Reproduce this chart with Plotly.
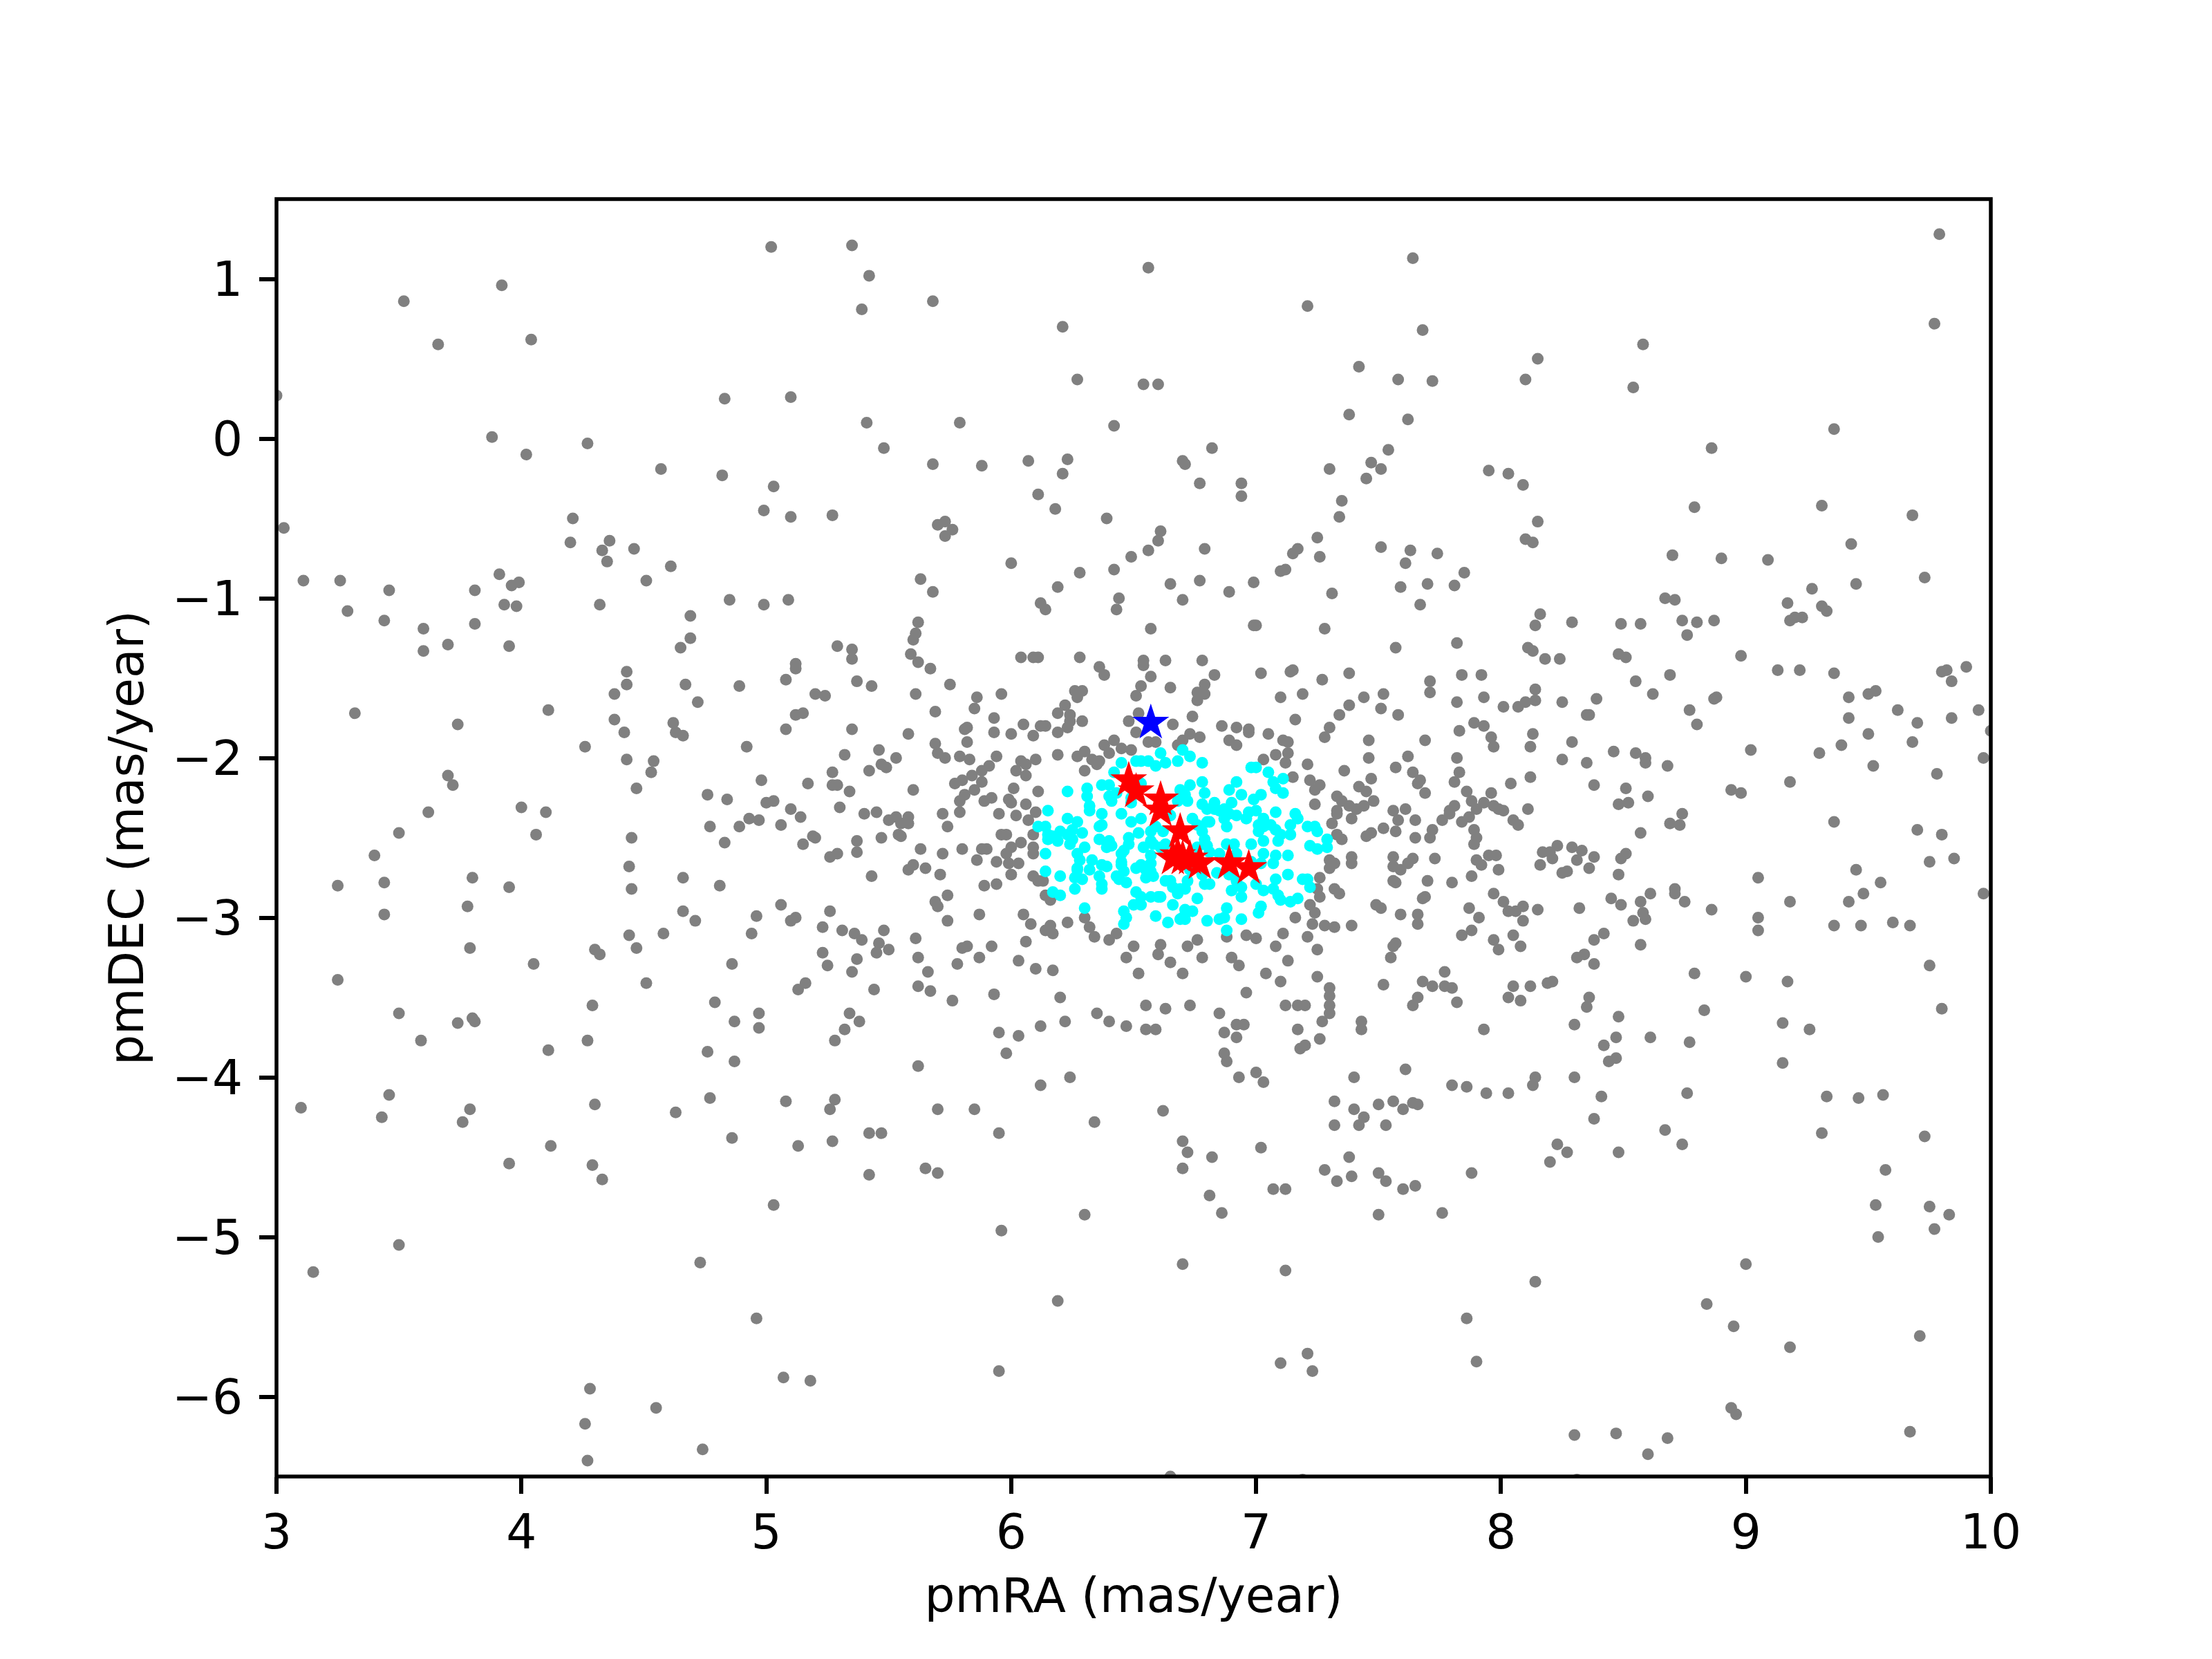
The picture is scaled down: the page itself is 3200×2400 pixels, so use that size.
import plotly.graph_objects as go

# values: (pmRA, pmDEC)
gray_top = [(3.52,0.86),(3.92,0.96),(3.66,0.59),(4.04,0.62),(3.88,0.01),(4.02,-0.10),(4.27,-0.03),(3.00,0.27),(4.21,-0.50),(3.03,-0.56),
(4.20,-0.65),(4.36,-0.64),(4.33,-0.70),(4.35,-0.77),(4.46,-0.69),(3.11,-0.89),(3.26,-0.89),(3.46,-0.95),(3.81,-0.95),(3.91,-0.85),
(3.99,-0.90),(3.96,-0.92),(3.93,-1.04),(3.98,-1.05),(4.32,-1.04),(3.29,-1.08),(3.44,-1.14),(3.60,-1.19),(3.81,-1.16),
(5.02,1.20),(5.35,1.21),(5.42,1.02),(5.39,0.81),(5.68,0.86),(4.83,0.25),(5.10,0.26),(5.41,0.10),(5.79,0.10),(5.48,-0.06),(4.57,-0.19),
(4.82,-0.23),(5.68,-0.16),(5.88,-0.17),(5.03,-0.30),(4.99,-0.45),(5.10,-0.49),(5.27,-0.48),(5.70,-0.54),(5.73,-0.52),(5.76,-0.57),
(5.73,-0.61),(4.61,-0.80),(4.51,-0.89),(5.63,-0.88),(5.68,-0.96),(4.85,-1.01),(4.99,-1.04),(5.09,-1.01),(4.69,-1.11),(5.62,-1.15),
(6.56,1.07),(7.21,0.83),(6.21,0.70),(6.27,0.37),(6.54,0.34),(6.60,0.34),(6.42,0.08),(7.38,0.15),(6.07,-0.14),(6.23,-0.13),
(6.21,-0.22),(6.11,-0.35),(6.18,-0.44),(6.82,-0.06),(6.70,-0.14),(6.71,-0.16),(6.77,-0.28),(6.94,-0.28),(6.94,-0.36),(7.30,-0.19),
(7.35,-0.39),(7.34,-0.49),(6.39,-0.50),(6.61,-0.58),(6.60,-0.64),(6.56,-0.70),(6.49,-0.74),(6.79,-0.69),(7.25,-0.62),(7.17,-0.69),
(7.15,-0.72),(7.26,-0.74),(7.12,-0.82),(7.10,-0.83),(6.00,-0.78),(6.28,-0.84),(6.42,-0.82),(6.19,-0.93),(6.12,-1.03),(6.14,-1.07),
(6.44,-1.00),(6.43,-1.07),(6.65,-0.91),(6.77,-0.89),(6.70,-1.01),(6.89,-0.96),(6.99,-0.90),(7.31,-0.97),(6.57,-1.19),(6.99,-1.17),
(7.00,-1.17),(7.28,-1.19),(7.64,1.13),(7.68,0.68),(8.58,0.59),(8.15,0.50),(8.10,0.37),(8.54,0.32),(7.58,0.37),(7.72,0.36),
(7.42,0.45),(7.62,0.12),(7.54,-0.07),(7.47,-0.15),(7.51,-0.19),(7.45,-0.25),(7.95,-0.20),(8.03,-0.22),(8.09,-0.29),(8.86,-0.06),
(8.79,-0.43),(8.15,-0.52),(8.10,-0.63),(8.13,-0.65),(8.70,-0.73),(7.51,-0.68),(7.63,-0.70),(7.61,-0.78),(7.74,-0.72),(7.85,-0.84),
(7.81,-0.92),(7.70,-0.91),(7.59,-0.93),(7.67,-1.04),(8.67,-1.00),(8.71,-1.01),(8.16,-1.10),(8.14,-1.17),(8.29,-1.15),(8.49,-1.16),
(8.57,-1.16),(8.74,-1.14),(8.80,-1.15),(8.87,-1.14),(9.79,1.28),(9.77,0.72),(9.36,0.06),(9.31,-0.42),(9.68,-0.48),(9.43,-0.66),
(8.90,-0.75),(9.09,-0.76),(9.45,-0.91),(9.73,-0.87),(9.27,-0.94),(9.17,-1.03),(9.31,-1.05),(9.33,-1.08),(9.20,-1.12),(9.18,-1.14)]

gray_center = [(6.04,-1.37),(6.09,-1.37),(6.11,-1.37),(6.28,-1.37),(6.36,-1.43),(6.38,-1.48),(6.54,-1.39),(6.54,-1.42),(6.63,-1.39),(6.78,-1.39),
(6.57,-1.49),(6.53,-1.55),(6.65,-1.56),(6.51,-1.61),(6.83,-1.48),(6.79,-1.54),(6.76,-1.59),(6.79,-1.60),(6.76,-1.64),(7.02,-1.47),
(7.14,-1.46),(7.15,-1.45),(7.27,-1.51),(7.38,-1.47),(7.19,-1.60),(7.10,-1.62),(7.38,-1.67),(7.34,-1.73),(7.16,-1.76),(7.30,-1.81),
(7.28,-1.87),(6.26,-1.58),(6.29,-1.58),(6.27,-1.62),(5.96,-1.60),(5.86,-1.62),(5.85,-1.69),(6.22,-1.67),(6.19,-1.72),(6.24,-1.73),
(6.24,-1.77),(6.23,-1.81),(6.29,-1.77),(5.93,-1.75),(6.05,-1.79),(6.12,-1.80),(6.14,-1.80),(5.93,-1.84),(6.00,-1.85),(6.09,-1.86),
(6.19,-1.84),(6.52,-1.72),(6.48,-1.77),(6.51,-1.84),(6.66,-1.79),(6.74,-1.74),(6.86,-1.80),(6.92,-1.81),(6.97,-1.82),(6.97,-1.84),
(7.05,-1.85),(6.73,-1.85),(6.77,-1.87),(6.70,-1.89),(6.68,-1.92),(6.89,-1.89),(6.92,-1.92),(7.11,-1.89),(7.13,-1.90),(7.13,-1.97),
(7.08,-1.98),(7.12,-2.03),(7.03,-2.01),(7.21,-2.04),(7.36,-2.08),(7.15,-2.12),(7.22,-2.14),(7.26,-2.17),(7.24,-2.20),(7.33,-2.24),
(7.35,-2.27),(7.38,-2.30),(7.24,-2.29),(7.33,-2.33),(7.33,-2.35),(7.39,-2.38),(7.31,-2.41),(7.33,-2.48),(7.35,-2.51),(6.56,-1.90),
(6.59,-1.90),(6.42,-1.89),(6.38,-1.92),(6.40,-1.97),(6.45,-1.94),(6.49,-1.95),(6.19,-1.98),(6.30,-1.96),(6.27,-1.99),(6.33,-2.01),
(6.36,-2.02),(6.35,-2.04),(6.30,-2.08),(6.10,-2.01),(6.04,-2.02),(6.06,-2.04),(6.02,-2.08),(6.06,-2.11),(5.94,-1.99),(5.91,-2.05),
(5.88,-2.08),(5.88,-2.15),(5.83,-2.01),(5.84,-2.11),(5.85,-2.20),(6.01,-2.19),(6.11,-2.21),(5.92,-2.25),(5.89,-2.27),(5.99,-2.26),
(6.00,-2.28),(6.06,-2.29),(5.95,-2.35),(6.02,-2.36),(6.10,-2.34),(6.07,-2.39),(5.96,-2.48),(5.98,-2.48),(6.09,-2.48),(6.04,-2.53),
(6.09,-2.56),(6.09,-2.60),(6.00,-2.56),(5.98,-2.60),(5.88,-2.57),(5.90,-2.57),(5.86,-2.64),(5.94,-2.65),(5.99,-2.66),(6.03,-2.66),
(6.00,-2.73),(6.09,-2.74),(6.11,-2.77),(6.13,-2.77),(5.89,-2.80),(5.94,-2.79),(6.14,-2.86),(6.16,-2.89),(5.87,-2.98),(6.05,-2.98),
(6.30,-3.00),(6.08,-3.04),(6.23,-3.03),(6.32,-3.06),(6.16,-3.05),(6.14,-3.08),(6.17,-3.10),(6.34,-3.12),(6.43,-3.10),(6.40,-3.14),
(6.06,-3.15),(5.92,-3.18),(6.50,-3.18),(6.61,-3.17),(6.76,-3.14),(6.72,-3.18),(6.88,-3.12),(6.96,-3.11),(7.00,-3.13),(7.11,-3.10),
(7.21,-3.12),(7.28,-3.05),(7.32,-3.06),(7.23,-3.04),(7.16,-3.00),(7.24,-2.97),(7.22,-2.92),(7.26,-2.87),(7.25,-2.82),(7.26,-2.75),
(7.34,-2.85),(7.32,-2.82),(7.39,-3.05),(7.39,-2.66),(7.30,-2.64),(7.32,-2.66),(7.30,-2.69),(7.39,-2.62)]

gray_left = [(3.60,-1.33),(3.70,-1.29),(3.95,-1.30),(3.32,-1.72),(3.74,-1.79),(3.40,-2.61),(3.70,-2.11),(3.72,-2.17),(3.62,-2.34),(3.50,-2.47),
(3.25,-2.80),(3.44,-2.78),(3.44,-2.98),(3.25,-3.39),(3.50,-3.60),(3.59,-3.77),(3.74,-3.66),(3.80,-3.63),(3.81,-3.65),(3.79,-3.19),
(3.78,-2.93),(3.80,-2.75),(3.95,-2.81),(4.00,-2.31),(4.06,-2.48),(4.10,-2.34),(4.05,-3.29),(4.11,-3.83),(3.10,-4.19),(3.43,-4.25),
(3.46,-4.11),(3.76,-4.28),(3.79,-4.20),(3.95,-4.54),(4.12,-4.43),(3.15,-5.22),(3.50,-5.05),(4.29,-4.55),(4.33,-4.64),(4.30,-4.17),
(4.28,-5.95),(4.26,-6.17),(4.27,-6.40),(4.27,-3.77),(4.29,-3.55),(4.30,-3.20),(4.32,-3.23),(4.26,-1.93),(4.11,-1.70),(4.38,-1.60),
(4.38,-1.76),(4.55,-6.07),(4.74,-6.33),(4.73,-5.16),(4.96,-5.51),(5.07,-5.88),(5.18,-5.90),(5.03,-4.80),(5.08,-4.15),(5.13,-4.43),
(4.97,-3.60),(4.87,-3.65),(4.97,-3.69),(4.87,-3.90),(4.76,-3.84),(4.77,-4.13),(4.86,-4.38),(4.63,-4.22),(5.28,-3.77),(5.32,-3.70),
(5.34,-3.60),(5.38,-3.65),(5.28,-4.14),(5.26,-4.20),(5.27,-4.40),(5.42,-4.35),(5.47,-4.35),(5.42,-4.61),(5.65,-4.57),(5.70,-4.60),
(5.70,-4.20),(5.62,-3.93),(5.85,-4.20),(5.95,-4.35),(5.98,-3.85),(5.95,-3.72),(5.96,-4.96),(5.95,-5.84),(6.03,-3.27),(6.10,-3.32)]

gray_mid_left = [(4.69,-1.25),(4.65,-1.31),(4.43,-1.46),(4.43,-1.54),(5.29,-1.30),(5.35,-1.32),(5.35,-1.38),(5.61,-1.22),(5.60,-1.26),(5.59,-1.35),
(5.62,-1.40),(5.67,-1.44),(5.12,-1.41),(5.12,-1.44),(5.08,-1.51),(5.37,-1.52),(5.43,-1.55),(5.75,-1.54),(4.67,-1.54),(4.89,-1.55),
(5.61,-1.60),(4.72,-1.65),(5.20,-1.60),(5.24,-1.61),(5.69,-1.71),(5.15,-1.72),(5.12,-1.73),(4.62,-1.78),(4.63,-1.84),(4.66,-1.86),
(4.42,-1.84),(5.08,-1.82),(5.35,-1.82),(5.58,-1.85),(5.81,-1.82),(5.82,-1.81),(5.82,-1.90),(5.69,-1.91),(5.70,-1.97),(5.73,-2.00),
(5.79,-1.99),(4.92,-1.93),(5.32,-1.98),(5.46,-1.95),(5.53,-2.00),(5.47,-2.04),(5.49,-2.06),(5.42,-2.08),(5.27,-2.09),(5.27,-2.17),
(5.29,-2.17),(5.34,-2.21),(4.43,-2.01),(4.54,-2.02),(4.53,-2.09),(4.47,-2.19),(4.98,-2.14),(5.17,-2.16),(5.60,-2.20),(5.77,-2.16),
(5.80,-2.14),(4.76,-2.23),(4.84,-2.26),(5.03,-2.27),(5.00,-2.28),(5.10,-2.32),(5.14,-2.37),(5.30,-2.31),(5.40,-2.35),(5.45,-2.34),
(5.50,-2.39),(5.53,-2.37),(5.58,-2.37),(5.55,-2.41),(5.58,-2.41),(5.81,-2.23),(5.79,-2.27),(5.79,-2.34),(5.72,-2.35),(5.74,-2.43),
(4.93,-2.38),(4.97,-2.39),(4.89,-2.43),(4.77,-2.43),(5.06,-2.42),(5.54,-2.48),(5.55,-2.49),(5.47,-2.50),(4.45,-2.50),(4.83,-2.53),
(5.37,-2.52),(5.37,-2.59),(5.15,-2.54),(5.19,-2.49),(5.20,-2.50),(5.29,-2.60),(5.26,-2.62),(5.63,-2.57),(5.72,-2.60),(5.80,-2.57),
(4.44,-2.68),(5.60,-2.67),(5.58,-2.70),(5.65,-2.69),(5.71,-2.73),(4.66,-2.75),(5.43,-2.74),(4.81,-2.80),(4.45,-2.82),(5.74,-2.86),
(5.69,-2.90),(5.70,-2.93),(5.06,-2.92),(4.66,-2.96),(4.71,-3.02),(4.96,-2.99),(5.26,-2.96),(5.12,-3.00),(5.10,-3.02),(5.74,-3.02),
(5.23,-3.06),(5.31,-3.08),(5.36,-3.10),(5.39,-3.14),(5.48,-3.08),(5.61,-3.13),(4.44,-3.11),(4.58,-3.10),(4.94,-3.10),(4.47,-3.19),
(5.46,-3.16),(5.45,-3.22),(5.50,-3.20),(5.23,-3.22),(5.37,-3.26),(5.25,-3.30),(5.62,-3.25),(4.86,-3.29),(5.35,-3.34),(5.66,-3.34),
(5.82,-3.18),(5.80,-3.19),(5.87,-3.25),(5.78,-3.29),(4.51,-3.41),(5.16,-3.41),(5.13,-3.45),(5.44,-3.45),(5.62,-3.43),(5.67,-3.46),
(4.79,-3.53),(5.76,-3.52),(5.93,-3.48)]

gray_mid_right = [(8.76,-1.23),(7.57,-1.31),(7.82,-1.28),(8.11,-1.31),(8.13,-1.33),(8.18,-1.38),(8.24,-1.38),(8.48,-1.35),(8.51,-1.37),(8.98,-1.36),
(7.84,-1.48),(7.92,-1.48),(7.71,-1.52),(7.71,-1.59),(8.55,-1.52),(8.69,-1.48),(7.44,-1.62),(7.52,-1.60),(7.51,-1.69),(7.58,-1.73),
(8.14,-1.57),(8.14,-1.64),(8.10,-1.65),(8.07,-1.68),(8.01,-1.68),(7.93,-1.62),(7.82,-1.65),(8.25,-1.65),(8.39,-1.63),(8.62,-1.60),
(8.87,-1.63),(8.88,-1.62),(8.77,-1.70),(8.35,-1.73),(8.36,-1.73),(8.80,-1.79),(7.89,-1.78),(7.93,-1.80),(7.83,-1.83),(7.96,-1.87),
(7.97,-1.93),(8.13,-1.85),(8.12,-1.93),(7.69,-1.89),(7.46,-1.89),(8.29,-1.90),(8.46,-1.96),(8.55,-1.97),(8.59,-2.00),(8.59,-2.03),
(8.68,-2.05),(7.62,-1.99),(7.46,-2.00),(7.82,-2.00),(8.25,-2.01),(8.35,-2.03),(7.57,-2.06),(7.64,-2.09),(7.83,-2.09),(7.81,-2.15),
(7.67,-2.14),(7.66,-2.16),(7.47,-2.13),(7.42,-2.18),(7.45,-2.21),(7.69,-2.22),(8.38,-2.17),(8.12,-2.12),(8.04,-2.16),(7.86,-2.21),
(7.96,-2.22),(8.51,-2.19),(8.60,-2.24),(8.94,-2.20),(8.98,-2.22),(7.48,-2.27),(7.44,-2.30),(7.41,-2.32),(7.61,-2.32),(7.56,-2.33),
(7.58,-2.39),(7.65,-2.39),(7.81,-2.30),(7.79,-2.33),(7.79,-2.35),(7.76,-2.39),(7.84,-2.40),(7.87,-2.37),(7.88,-2.27),(7.93,-2.28),
(7.90,-2.32),(7.97,-2.30),(7.99,-2.32),(8.01,-2.33),(8.11,-2.32),(8.05,-2.39),(8.07,-2.42),(8.48,-2.29),(8.52,-2.28),(8.74,-2.35),
(8.69,-2.41),(8.73,-2.42),(8.57,-2.47),(7.52,-2.44),(7.57,-2.46),(7.47,-2.47),(7.45,-2.49),(7.89,-2.45),(7.90,-2.50),(7.89,-2.54),
(7.72,-2.45),(7.71,-2.50),(7.65,-2.50),(8.23,-2.55),(8.29,-2.56),(8.33,-2.58),(8.20,-2.59),(8.17,-2.59),(8.21,-2.63),(7.95,-2.61),
(7.98,-2.61),(7.90,-2.64),(7.92,-2.67),(7.99,-2.70),(7.73,-2.63),(7.64,-2.63),(7.62,-2.66),(7.56,-2.62),(7.56,-2.68),(7.59,-2.70),
(8.38,-2.62),(8.31,-2.64),(8.36,-2.69),(8.16,-2.67),(8.27,-2.71),(8.25,-2.72),(8.51,-2.60),(8.49,-2.63),(8.48,-2.73),(7.88,-2.74),
(7.80,-2.78),(7.70,-2.77),(7.57,-2.78),(7.56,-2.77),(8.71,-2.82),(8.71,-2.85),(8.61,-2.85),(8.45,-2.88),(7.97,-2.85),(7.69,-2.87),
(7.68,-2.88),(7.49,-2.92),(7.51,-2.94),(8.01,-2.90),(8.09,-2.93),(8.15,-2.95),(8.03,-2.96),(8.06,-2.96),(8.09,-3.02),(7.87,-2.94),
(7.91,-3.00),(7.59,-2.98),(7.66,-2.98),(7.66,-3.04),(8.32,-2.94),(8.49,-2.92),(8.57,-2.90),(8.75,-2.90),(8.86,-2.95),(8.58,-2.97),
(8.59,-3.01),(8.54,-3.02),(7.88,-3.08),(7.84,-3.11),(8.05,-3.11),(7.97,-3.14),(7.99,-3.20),(8.08,-3.18),(8.42,-3.10),(8.38,-3.14),
(8.57,-3.17),(7.57,-3.16),(7.56,-3.18),(7.55,-3.25),(8.34,-3.23),(8.31,-3.25),(8.38,-3.29),(7.77,-3.34),(7.68,-3.40),(7.72,-3.43),
(7.77,-3.43),(7.80,-3.44),(7.52,-3.42),(8.05,-3.43),(8.12,-3.43),(8.21,-3.40),(8.19,-3.41),(8.79,-3.35),(7.66,-3.50),(7.64,-3.55),
(7.82,-3.53),(8.03,-3.50),(8.08,-3.52),(8.36,-3.50),(8.35,-3.56),(7.25,-3.20),(7.25,-3.37),(7.30,-3.44),(7.30,-3.49),(7.30,-3.55)]

gray_bottom = [(6.19,-5.40),(6.30,-4.86),(6.34,-4.28),(6.12,-4.05),(6.24,-4.00),(6.03,-3.74),(6.12,-3.68),(6.22,-3.65),(6.20,-3.50),(6.17,-3.33),
(6.35,-3.60),(6.40,-3.65),(6.47,-3.68),(6.55,-3.70),(6.59,-3.70),(6.55,-3.55),(6.52,-3.35),(6.47,-3.25),(6.60,-3.23),(6.65,-3.28),
(6.70,-3.35),(6.63,-3.57),(6.73,-3.55),(6.78,-3.25),(6.90,-3.25),(6.93,-3.30),(6.96,-3.47),(6.85,-3.60),(6.87,-3.72),(6.92,-3.75),
(6.92,-3.67),(6.95,-3.67),(6.87,-3.85),(6.88,-3.90),(6.93,-4.00),(7.00,-3.97),(7.03,-4.03),(7.02,-4.44),(6.62,-4.21),(6.70,-4.40),
(6.72,-4.47),(6.82,-4.50),(6.70,-4.57),(6.81,-4.74),(6.86,-4.85),(7.07,-4.70),(7.12,-4.70),(6.70,-5.17),(7.12,-5.21),(7.10,-5.79),
(7.21,-5.73),(7.23,-5.84),(6.65,-6.50),(7.19,-6.52),(7.04,-3.35),(7.10,-3.40),(7.12,-3.55),(7.17,-3.55),(7.20,-3.55),(7.27,-3.65),
(7.30,-3.60),(7.17,-3.70),(7.18,-3.82),(7.20,-3.80),(7.26,-3.76),(7.13,-3.27),(7.08,-3.18),(7.43,-3.65),(7.43,-3.70),(7.40,-4.00),
(7.40,-4.20),(7.32,-4.15),(7.32,-4.30),(7.28,-4.58),(7.38,-4.50),(7.39,-4.62),(7.33,-4.65),(7.44,-4.25),(7.42,-4.30),(7.50,-4.17),
(7.53,-4.30),(7.60,-4.20),(7.50,-4.60),(7.53,-4.65),(7.60,-4.70),(7.65,-4.68),(7.50,-4.86),(7.76,-4.85),(7.61,-3.95),(7.64,-4.16),
(7.56,-4.15),(7.66,-4.17),(7.80,-4.05),(7.88,-4.60),(7.86,-5.51),(7.90,-5.78),(8.14,-5.28),(8.30,-6.24),(8.47,-6.23),(8.60,-6.36),
(8.31,-6.52),(7.94,-4.10),(7.86,-4.06),(8.03,-4.10),(8.14,-4.00),(8.13,-4.05),(8.20,-4.53),(8.23,-4.42),(8.27,-4.47),(8.38,-4.26),
(8.41,-4.12),(8.30,-4.00),(8.48,-4.47),(8.47,-3.88),(8.42,-3.80),(8.44,-3.90),(8.48,-3.62),(8.47,-3.75),(8.61,-3.75),(8.77,-3.78),
(8.76,-4.10),(8.67,-4.33),(8.74,-4.42),(8.83,-3.58),(9.00,-3.37),(9.17,-3.40),(9.15,-3.66),(9.15,-3.91),(9.26,-3.70),(9.33,-4.12),
(9.31,-4.35),(9.46,-4.13),(9.56,-4.11),(9.73,-4.37),(9.53,-4.80),(9.54,-5.00),(9.57,-4.58),(9.75,-4.81),(9.77,-4.95),(9.83,-4.86),
(9.00,-5.17),(8.84,-5.42),(9.80,-3.57),(8.95,-5.56),(9.18,-5.69),(9.71,-5.62),(8.94,-6.07),(8.96,-6.11),(8.68,-6.26),(9.67,-6.22),
(8.30,-3.67),(7.93,-3.70)]

gray_right = [(9.02,-1.95),(9.13,-1.45),(9.22,-1.45),(9.23,-1.12),(9.18,-2.15),(9.36,-1.47),(9.42,-1.75),(9.42,-1.62),(9.50,-1.60),(9.53,-1.58),
(9.50,-1.85),(9.52,-2.05),(9.30,-1.97),(9.39,-1.92),(9.36,-2.40),(9.62,-1.70),(9.70,-1.78),(9.68,-1.90),(9.80,-1.46),(9.82,-1.45),
(9.84,-1.52),(9.90,-1.43),(9.78,-2.10),(9.84,-1.75),(9.95,-1.70),(9.97,-2.00),(10.00,-1.83),(9.70,-2.45),(9.80,-2.48),(9.85,-2.63),
(9.97,-2.85),(9.60,-3.03),(9.67,-3.05),(9.75,-3.30),(9.75,-2.65),(9.45,-2.70),(9.48,-2.85),(9.55,-2.78),(9.42,-2.90),(9.36,-3.05),
(9.47,-3.05),(9.18,-2.90),(9.05,-2.75),(9.05,-3.00),(9.05,-3.08)]

cyan_pts = [(6.61,-1.97),(6.70,-1.95),(6.73,-1.99),(6.68,-2.02),(6.78,-2.03),(6.45,-2.03),(6.51,-2.02),(6.53,-2.02),(6.56,-2.02),(6.59,-2.05),
(6.63,-2.03),(6.42,-2.09),(6.98,-2.06),(7.00,-2.06),(7.05,-2.09),(7.07,-2.15),(7.11,-2.13),(6.92,-2.15),(6.89,-2.20),(6.94,-2.23),
(6.78,-2.15),(6.73,-2.17),(6.69,-2.20),(6.79,-2.22),(6.71,-2.23),(6.68,-2.27),(6.72,-2.27),(6.23,-2.21),(6.31,-2.19),(6.31,-2.24),
(6.32,-2.30),(6.32,-2.33),(6.37,-2.17),(6.40,-2.17),(6.43,-2.22),(6.40,-2.24),(6.41,-2.27),(6.49,-2.25),(6.49,-2.28),(6.53,-2.16),
(7.02,-2.23),(6.99,-2.26),(7.08,-2.19),(7.11,-2.22),(6.78,-2.29),(6.83,-2.28),(6.90,-2.28),(6.80,-2.32),(6.87,-2.32),(6.85,-2.33),
(6.83,-2.32),(6.89,-2.35),(6.92,-2.36),(6.97,-2.34),(7.00,-2.33),(6.96,-2.38),(6.87,-2.38),(6.81,-2.40),(6.80,-2.40),(6.88,-2.43),
(6.15,-2.33),(6.37,-2.35),(6.45,-2.35),(6.23,-2.38),(6.27,-2.40),(6.49,-2.40),(6.53,-2.38),(6.65,-2.36),(6.74,-2.38),(6.76,-2.42),
(7.03,-2.38),(7.08,-2.34),(7.16,-2.35),(7.17,-2.38),(7.14,-2.42),(6.11,-2.43),(6.14,-2.43),(6.37,-2.42),(6.36,-2.43),(6.20,-2.46),
(6.15,-2.48),(6.17,-2.49),(6.29,-2.47),(6.25,-2.45),(6.23,-2.48),(6.52,-2.47),(6.59,-2.43),(6.57,-2.46),(6.62,-2.46),(6.78,-2.46),
(6.79,-2.51),(7.01,-2.42),(7.03,-2.43),(7.06,-2.42),(7.08,-2.45),(7.01,-2.46),(7.10,-2.48),(7.14,-2.48),(7.21,-2.43),(7.24,-2.43),
(7.25,-2.46),(7.29,-2.51),(6.15,-2.51),(6.19,-2.52),(6.25,-2.51),(6.24,-2.54),(6.36,-2.51),(6.40,-2.52),(6.48,-2.50),(6.48,-2.54),
(6.57,-2.52),(6.54,-2.56),(6.58,-2.54),(6.63,-2.54),(6.88,-2.54),(6.91,-2.54),(6.98,-2.54),(7.03,-2.52),(7.09,-2.52),(7.22,-2.55),
(7.25,-2.57),(7.29,-2.56),(6.30,-2.56),(6.39,-2.56),(6.41,-2.55),(6.46,-2.58),(6.45,-2.60),(6.61,-2.56),(6.76,-2.56),(6.80,-2.55),
(6.81,-2.59),(6.14,-2.60),(6.27,-2.60),(6.57,-2.61),(6.85,-2.60),(6.92,-2.60),(7.03,-2.60),(7.08,-2.61),(7.13,-2.61),(6.28,-2.64),
(6.33,-2.64),(6.45,-2.65),(6.45,-2.67),(6.37,-2.67),(6.39,-2.68),(6.53,-2.67),(6.51,-2.69),(6.57,-2.66),(6.98,-2.65),(7.02,-2.66),
(7.07,-2.66),(6.27,-2.69),(6.32,-2.70),(6.27,-2.70),(6.14,-2.71),(6.46,-2.71),(6.43,-2.74),(6.55,-2.70),(6.57,-2.71),(6.58,-2.74),
(6.55,-2.75),(6.73,-2.70),(6.78,-2.73),(6.84,-2.72),(6.89,-2.73),(6.20,-2.74),(6.26,-2.75),(6.29,-2.76),(6.36,-2.74),(6.44,-2.76),
(7.13,-2.73),(7.08,-2.76),(7.19,-2.76),(7.21,-2.76),(6.92,-2.77),(6.63,-2.77),(6.65,-2.77),(6.72,-2.77),(6.47,-2.78),(6.37,-2.79),
(6.37,-2.82),(6.79,-2.79),(6.81,-2.79),(7.00,-2.79),(7.22,-2.81),(6.94,-2.81),(6.90,-2.83),(7.03,-2.83),(7.07,-2.82),(6.26,-2.82),
(6.17,-2.84),(6.20,-2.86),(6.66,-2.81),(6.69,-2.82),(6.71,-2.82),(6.68,-2.85),(6.94,-2.87),(6.51,-2.84),(6.53,-2.87),(6.57,-2.87),
(6.61,-2.87),(6.60,-2.87),(6.76,-2.88),(7.09,-2.86),(7.10,-2.89),(7.14,-2.90),(7.17,-2.88),(6.50,-2.92),(6.53,-2.92),(6.30,-2.94),
(6.66,-2.92),(6.88,-2.94),(7.02,-2.93),(6.46,-2.96),(6.71,-2.95),(6.74,-2.96),(6.47,-3.00),(7.01,-2.97),(6.59,-2.99),(6.70,-3.00),
(6.69,-3.01),(6.71,-3.01),(6.85,-3.01),(6.87,-3.00),(6.80,-3.02),(6.94,-3.01),(6.64,-3.03),(6.46,-3.04),(6.88,-3.08)]

red_pts = [(6.48,-2.14),(6.51,-2.21),(6.61,-2.26),(6.61,-2.33),(6.69,-2.46),(6.66,-2.63),(6.68,-2.61),(6.70,-2.63),(6.73,-2.63),(6.77,-2.66),(6.89,-2.66),(6.97,-2.69)]
blue_pt = [(6.57,-1.78)]

x_ticks = [3, 4, 5, 6, 7, 8, 9, 10]
y_ticks = [-6, -5, -4, -3, -2, -1, 0, 1]

gray_pts = gray_top + gray_center + gray_left + gray_mid_left + gray_mid_right + gray_bottom + gray_right


def add_points(fig, pts, color, symbol, size):
    fig.add_trace(go.Scatter(
        x=[p[0] for p in pts],
        y=[p[1] for p in pts],
        mode='markers',
        marker=dict(color=color, symbol=symbol, size=size, line=dict(width=0)),
        showlegend=False
    ))


fig = go.Figure()
add_points(fig, gray_pts, 'gray', 'circle', 17)
add_points(fig, cyan_pts, 'cyan', 'circle', 17)
add_points(fig, red_pts, 'red', 'star', 40)
add_points(fig, blue_pt, 'blue', 'star', 40)

axis_style = dict(
    showgrid=False,
    zeroline=False,
    showline=False,
    ticks='outside',
    ticklen=24,
    tickwidth=5.5,
    tickcolor='black',
    tickfont=dict(family='DejaVu Sans', size=69.4, color='black'),
)

# the page has an 8 px body margin, so the plot area sits 8 px in from these
fig.update_layout(
    width=3200,
    height=2400,
    autosize=False,
    margin=dict(l=392, r=328, t=280, b=272, pad=0),
    paper_bgcolor='white',
    plot_bgcolor='white',
    font=dict(family='DejaVu Sans', color='black'),
    xaxis=dict(range=[3, 10], tickvals=x_ticks, ticklabelstandoff=-4, **axis_style,
               title=dict(text='pmRA (mas/year)', font=dict(family='DejaVu Sans', size=69.4), standoff=28)),
    yaxis=dict(range=[-6.5, 1.5], tickvals=y_ticks, ticklabelstandoff=10, **axis_style,
               title=dict(text='pmDEC (mas/year)', font=dict(family='DejaVu Sans', size=69.4), standoff=18)),
    shapes=[dict(type='rect', xref='paper', yref='paper', x0=0, x1=1, y0=0, y1=1,
                 line=dict(color='black', width=5.5), layer='above')],
)

fig.write_html("out.html")
